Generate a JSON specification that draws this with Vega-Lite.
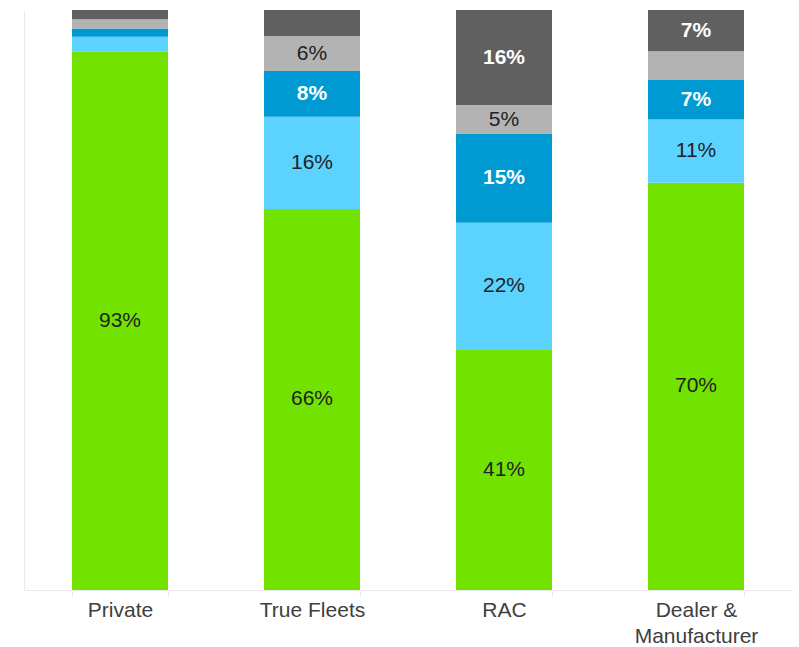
{
  "$schema": "https://vega.github.io/schema/vega-lite/v6.json",
  "width": 768,
  "height": 580,
  "autosize": {"type": "none"},
  "padding": {"left": 24, "top": 10, "right": 7, "bottom": 57},
  "background": "#ffffff",
  "config": {"view": {"stroke": null}, "font": "Liberation Sans"},
  "data": {
    "values": [
      {"category": "Private", "segment": "Segment 1", "order": 1, "value": 92.8},
      {"category": "Private", "segment": "Segment 2", "order": 2, "value": 2.6},
      {"category": "Private", "segment": "Segment 3", "order": 3, "value": 1.4},
      {"category": "Private", "segment": "Segment 4", "order": 4, "value": 1.6},
      {"category": "Private", "segment": "Segment 5", "order": 5, "value": 1.6},
      {"category": "True Fleets", "segment": "Segment 1", "order": 1, "value": 65.7},
      {"category": "True Fleets", "segment": "Segment 2", "order": 2, "value": 15.9},
      {"category": "True Fleets", "segment": "Segment 3", "order": 3, "value": 7.9},
      {"category": "True Fleets", "segment": "Segment 4", "order": 4, "value": 6.0},
      {"category": "True Fleets", "segment": "Segment 5", "order": 5, "value": 4.5},
      {"category": "RAC", "segment": "Segment 1", "order": 1, "value": 41.4},
      {"category": "RAC", "segment": "Segment 2", "order": 2, "value": 21.9},
      {"category": "RAC", "segment": "Segment 3", "order": 3, "value": 15.3},
      {"category": "RAC", "segment": "Segment 4", "order": 4, "value": 5.0},
      {"category": "RAC", "segment": "Segment 5", "order": 5, "value": 16.4},
      {"category": "Dealer & Manufacturer", "segment": "Segment 1", "order": 1, "value": 70.2},
      {"category": "Dealer & Manufacturer", "segment": "Segment 2", "order": 2, "value": 10.9},
      {"category": "Dealer & Manufacturer", "segment": "Segment 3", "order": 3, "value": 6.9},
      {"category": "Dealer & Manufacturer", "segment": "Segment 4", "order": 4, "value": 4.9},
      {"category": "Dealer & Manufacturer", "segment": "Segment 5", "order": 5, "value": 7.1}
    ]
  },
  "transform": [
    {"stack": "value", "groupby": ["category"], "sort": [{"field": "order"}], "as": ["y0", "y1"]},
    {"calculate": "(datum.y0 + datum.y1) / 2", "as": "mid"},
    {"calculate": "format(datum.value, '.0f') + '%'", "as": "label"}
  ],
  "encoding": {
    "x": {
      "field": "category",
      "type": "nominal",
      "sort": ["Private", "True Fleets", "RAC", "Dealer & Manufacturer"],
      "scale": {"paddingInner": 0.5, "paddingOuter": 0.25},
      "axis": {
        "title": null,
        "labelAngle": 0,
        "labelFontSize": 21,
        "labelColor": "#404040",
        "labelPadding": 3,
        "labelLineHeight": 26,
        "labelExpr": "datum.value == 'Dealer & Manufacturer' ? ['Dealer &', 'Manufacturer'] : datum.value",
        "domainColor": "#ebebeb",
        "tickColor": "#ebebeb",
        "tickSize": 6,
        "tickBand": "extent"
      }
    }
  },
  "layer": [
    {
      "mark": {"type": "bar"},
      "encoding": {
        "y": {
          "field": "y0",
          "type": "quantitative",
          "scale": {"domain": [0, 100], "nice": false},
          "axis": {"title": null, "labels": false, "ticks": false, "grid": false, "domainColor": "#ebebeb"}
        },
        "y2": {"field": "y1"},
        "color": {
          "field": "segment",
          "type": "nominal",
          "scale": {
            "domain": ["Segment 1", "Segment 2", "Segment 3", "Segment 4", "Segment 5"],
            "range": ["#72e300", "#5cd3ff", "#009ad3", "#b3b3b3", "#606060"]
          },
          "legend": null
        }
      }
    },
    {
      "transform": [
        {"filter": "datum.value >= 5"},
        {"filter": "datum.segment == 'Segment 1' || datum.segment == 'Segment 2' || datum.segment == 'Segment 4'"}
      ],
      "mark": {"type": "text", "fontSize": 21, "color": "#222222", "baseline": "middle"},
      "encoding": {
        "y": {"field": "mid", "type": "quantitative"},
        "text": {"field": "label", "type": "nominal"}
      }
    },
    {
      "transform": [
        {"filter": "datum.value >= 5"},
        {"filter": "datum.segment == 'Segment 3' || datum.segment == 'Segment 5'"}
      ],
      "mark": {"type": "text", "fontSize": 21, "fontWeight": "bold", "color": "#ffffff", "baseline": "middle"},
      "encoding": {
        "y": {"field": "mid", "type": "quantitative"},
        "text": {"field": "label", "type": "nominal"}
      }
    }
  ]
}
